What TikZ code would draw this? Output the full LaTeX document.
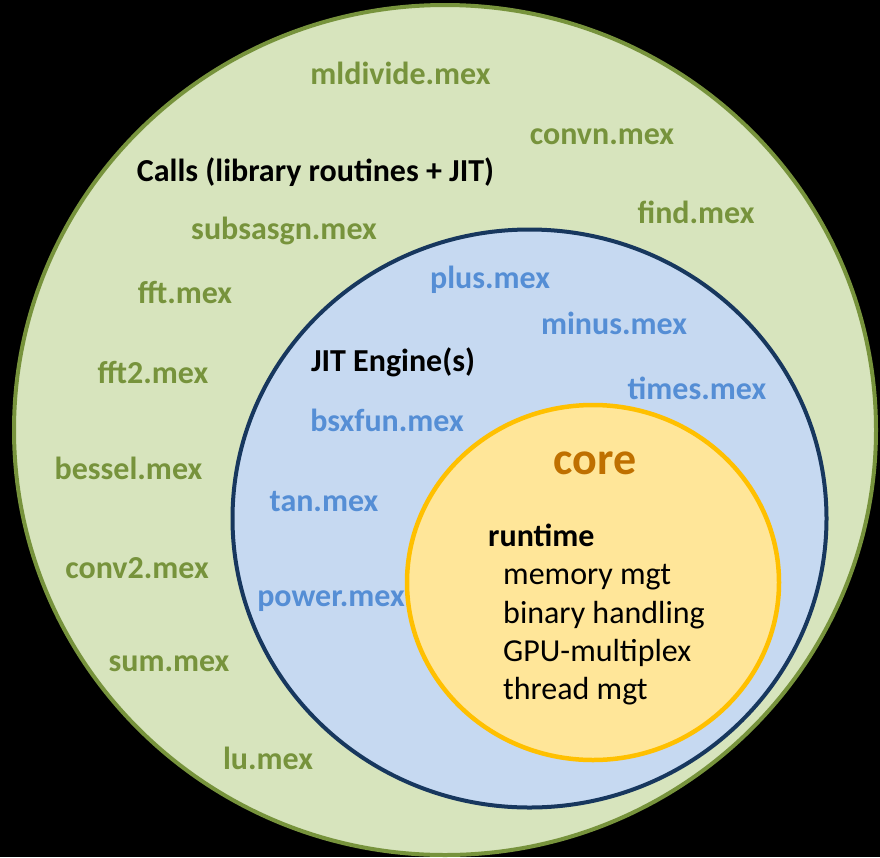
\documentclass[tikz,border=0pt]{standalone}
\usepackage{fontspec}
\setmainfont{Carlito}
\definecolor{callsfill}{HTML}{D7E4BD}
\definecolor{callsline}{HTML}{77933C}
\definecolor{callstext}{HTML}{77933C}
\definecolor{jitfill}{HTML}{C6D9F1}
\definecolor{jitline}{HTML}{17375E}
\definecolor{jittext}{HTML}{558ED5}
\definecolor{corefill}{HTML}{FFE699}
\definecolor{coreline}{HTML}{FFC000}
\definecolor{coretext}{HTML}{BF7000}
\begin{document}
\begin{tikzpicture}[x=1pt,y=-1pt,
  lbl/.style={anchor=base, inner sep=0pt, font=\fontsize{32}{38}\selectfont\bfseries},
  mexg/.style={lbl, text=callstext},
  mexb/.style={lbl, text=jittext},
  head/.style={lbl, text=black},
  item/.style={anchor=base west, inner sep=0pt, font=\fontsize{32}{38}\selectfont, text=black}]
\fill[black] (0,0) rectangle (880,857);
\useasboundingbox (0,0) rectangle (880,857);

% nested regions
\draw[line width=4pt, draw=callsline, fill=callsfill] (445,430) ellipse [x radius=431pt, y radius=425pt];
\draw[line width=4pt, draw=jitline, fill=jitfill] (529.5,518.5) ellipse [x radius=297pt, y radius=289pt];
\draw[line width=4.5pt, draw=coreline, fill=corefill] (593,582.5) ellipse [x radius=186pt, y radius=177.5pt];

% outer ring: library calls
\node[head] (calls) at (315.5,181) {Calls (library routines + JIT)};
\node[mexg] (mldivide) at (400.5,84) {mldivide.mex};
\node[mexg] (convn) at (602,144) {convn.mex};
\node[mexg] (find) at (696,223) {find.mex};
\node[mexg] (subsasgn) at (284,239) {subsasgn.mex};
\node[mexg] (fft) at (185,303) {fft.mex};
\node[mexg] (fft2) at (153,383) {fft2.mex};
\node[mexg] (bessel) at (128.5,479) {bessel.mex};
\node[mexg] (conv2) at (137,578) {conv2.mex};
\node[mexg] (sum) at (169,671) {sum.mex};
\node[mexg] (lu) at (268,769) {lu.mex};

% middle ring: JIT engines
\node[head] (jit) at (393,371) {JIT Engine(s)};
\node[mexb] (plus) at (490,288) {plus.mex};
\node[mexb] (minus) at (614,334) {minus.mex};
\node[mexb] (times) at (697,399) {times.mex};
\node[mexb] (bsxfun) at (387,431) {bsxfun.mex};
\node[mexb] (tan) at (324,511) {tan.mex};
\node[mexb] (power) at (331,606) {power.mex};

% inner region: core runtime
\node[lbl, text=coretext, font=\fontsize{46}{54}\selectfont\bfseries] (core) at (595,474) {core};
\node[item, font=\fontsize{32}{38}\selectfont\bfseries] (runtime) at (488,546) {runtime};
\node[item] (mem) at (503,584) {memory mgt};
\node[item] (bin) at (503,623) {binary handling};
\node[item] (gpu) at (503,661) {GPU-multiplex};
\node[item] (thr) at (503,699) {thread mgt};
\end{tikzpicture}
\end{document}
